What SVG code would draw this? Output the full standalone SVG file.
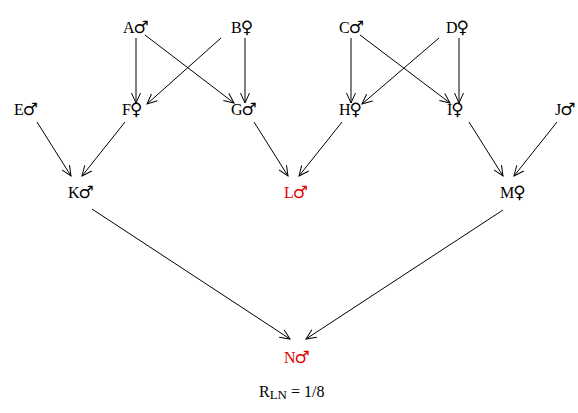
<svg xmlns="http://www.w3.org/2000/svg" width="578" height="413" viewBox="0 0 578 413">
<defs>
<marker id="ah" markerWidth="12" markerHeight="10" refX="11" refY="5" orient="auto" markerUnits="userSpaceOnUse">
<path d="M1,0.5 L11,5 L1,9.5" fill="none" stroke="#000" stroke-width="1"/>
</marker>
<style>
.l{font-family:"Liberation Serif","Times New Roman",serif;font-size:16px;fill:#000}
.s{font-family:"DejaVu Sans",sans-serif;font-size:17px}
.r{fill:#e00000}
.c line{stroke:#000;stroke-width:1;marker-end:url(#ah)}
</style>
</defs>
<rect width="578" height="413" fill="#fff"/>
<g class="c">
<line x1="136" y1="38" x2="136" y2="103"/>
<line x1="221" y1="38" x2="147" y2="104"/>
<line x1="145" y1="35" x2="234" y2="103"/>
<line x1="245" y1="38" x2="245" y2="103"/>
<line x1="351" y1="38" x2="351" y2="103"/>
<line x1="439" y1="38" x2="362" y2="104"/>
<line x1="360" y1="35" x2="450" y2="103"/>
<line x1="459" y1="38" x2="459" y2="103"/>
<line x1="37" y1="122" x2="71" y2="176"/>
<line x1="125" y1="122" x2="82" y2="176"/>
<line x1="254" y1="122" x2="288" y2="176"/>
<line x1="342" y1="122" x2="299" y2="176"/>
<line x1="469" y1="122" x2="503" y2="176"/>
<line x1="557" y1="122" x2="514" y2="176"/>
<line x1="92" y1="209" x2="290" y2="339"/>
<line x1="503" y1="210" x2="306" y2="339"/>
</g>
<g id="A"><text class="l" x="123" y="33">A<tspan class="s" dx="-1">♂</tspan></text></g>
<g id="B"><text class="l" x="231" y="33">B<tspan class="s" dx="-1">♀</tspan></text></g>
<g id="C"><text class="l" x="339" y="33">C<tspan class="s" dx="-1">♂</tspan></text></g>
<g id="D"><text class="l" x="446" y="33">D<tspan class="s" dx="-1">♀</tspan></text></g>
<g id="E"><text class="l" x="14" y="115">E<tspan class="s" dx="-1">♂</tspan></text></g>
<g id="F"><text class="l" x="122" y="115">F<tspan class="s" dx="-1">♀</tspan></text></g>
<g id="G"><text class="l" x="231" y="115">G<tspan class="s" dx="-1">♂</tspan></text></g>
<g id="H"><text class="l" x="339" y="115">H<tspan class="s" dx="-1">♀</tspan></text></g>
<g id="I"><text class="l" x="447" y="115">I<tspan class="s" dx="-1">♀</tspan></text></g>
<g id="J"><text class="l" x="555" y="115">J<tspan class="s" dx="-1">♂</tspan></text></g>
<g id="K"><text class="l" x="68" y="198">K<tspan class="s" dx="-1">♂</tspan></text></g>
<g id="L"><text class="l r" x="284" y="198">L<tspan class="s" dx="-1">♂</tspan></text></g>
<g id="M"><text class="l" x="500" y="198">M<tspan class="s" dx="-1">♀</tspan></text></g>
<g id="N"><text class="l r" x="284" y="363">N<tspan class="s" dx="-1">♂</tspan></text></g>
<text class="l" x="259" y="397" font-size="19px">R<tspan font-size="13px" dy="2">LN</tspan><tspan dy="-2"> = 1/8</tspan></text>
</svg>
